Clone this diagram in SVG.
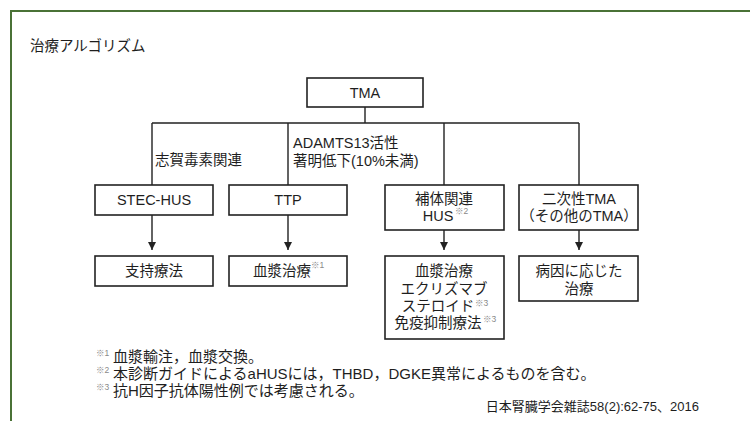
<svg xmlns="http://www.w3.org/2000/svg" width="750" height="421" viewBox="0 0 750 421">
<style>
text{font-family:"Liberation Sans","Noto Sans CJK JP",sans-serif;fill:#1e1e1e}
.box{fill:#fff;stroke:#222;stroke-width:1.6}
.t{font-size:14.5px;text-anchor:middle}
.lbl{font-size:14.5px}
.sup{font-size:8.5px;fill:#888}
.fn{font-size:15px}
.line{stroke:#222;stroke-width:1.4;fill:none}
</style>
<defs>
<marker id="arr" viewBox="0 0 10 10" refX="10" refY="5" markerWidth="8" markerHeight="8" markerUnits="userSpaceOnUse" orient="auto">
<path d="M0,0 L10,5 L0,10 z" fill="#222"/>
</marker>
</defs>
<rect width="750" height="421" fill="#fff"/>
<path d="M750 11 H11 V421" fill="none" stroke="#4a7236" stroke-width="2"/>
<text x="30" y="51" style="font-size:14.5px">治療アルゴリズム</text>

<g id="connectors">
<path class="line" d="M365 107 V123 M152 123 H579 M152 123 V185 M288 123 V185 M444 123 V185 M579 123 V185"/>
<path class="line" d="M152 215 V250" marker-end="url(#arr)"/>
<path class="line" d="M288 215 V250" marker-end="url(#arr)"/>
<path class="line" d="M444 230 V250" marker-end="url(#arr)"/>
<path class="line" d="M579 230 V250" marker-end="url(#arr)"/>
</g>

<g id="labels">
<text class="lbl" x="155" y="165">志賀毒素関連</text>
<text class="lbl" x="293" y="148">ADAMTS13活性</text>
<text class="lbl" x="293" y="166">著明低下(10%未満)</text>
</g>

<g id="tma"><rect class="box" x="307" y="78" width="116" height="29"/><text class="t" x="365" y="98">TMA</text></g>
<g id="stec"><rect class="box" x="95" y="185" width="118" height="30"/><text class="t" x="154" y="205">STEC-HUS</text></g>
<g id="ttp"><rect class="box" x="229" y="185" width="118" height="30"/><text class="t" x="288" y="205">TTP</text></g>
<g id="hotai"><rect class="box" x="385" y="185" width="119" height="45"/><text class="t" x="444" y="204">補体関連</text><text class="t" x="438" y="221">HUS</text><text class="sup" x="455" y="214">※2</text></g>
<g id="niji"><rect class="box" x="519" y="185" width="119" height="45"/><text class="t" x="579" y="204">二次性TMA</text><text class="t" x="579" y="221">（その他のTMA）</text></g>

<g id="shiji"><rect class="box" x="95" y="256" width="118" height="30"/><text class="t" x="154" y="276">支持療法</text></g>
<g id="kessho"><rect class="box" x="229" y="256" width="118" height="30"/><text class="t" x="282" y="276">血漿治療</text><text class="sup" x="311" y="268">※1</text></g>
<g id="hotai-tx"><rect class="box" x="385" y="256" width="119" height="83"/>
<text class="t" x="444" y="276">血漿治療</text>
<text class="t" x="444" y="294">エクリズマブ</text>
<text class="t" x="438" y="311">ステロイド</text><text class="sup" x="475" y="306">※3</text>
<text class="t" x="438" y="328">免疫抑制療法</text><text class="sup" x="483" y="322">※3</text>
</g>
<g id="byoin"><rect class="box" x="519" y="256" width="119" height="45"/><text class="t" x="579" y="276">病因に応じた</text><text class="t" x="579" y="294">治療</text></g>

<g id="footnotes">
<text class="sup" x="96" y="356">※1</text><text class="fn" x="113" y="362">血漿輸注，血漿交換。</text>
<text class="sup" x="96" y="373">※2</text><text class="fn" x="113" y="379">本診断ガイドによるaHUSには，THBD，DGKE異常によるものを含む。</text>
<text class="sup" x="96" y="390">※3</text><text class="fn" x="113" y="396">抗H因子抗体陽性例では考慮される。</text>
<text x="699" y="411" style="font-size:13px;text-anchor:end">日本腎臓学会雑誌58(2):62-75、2016</text>
</g>
</svg>
